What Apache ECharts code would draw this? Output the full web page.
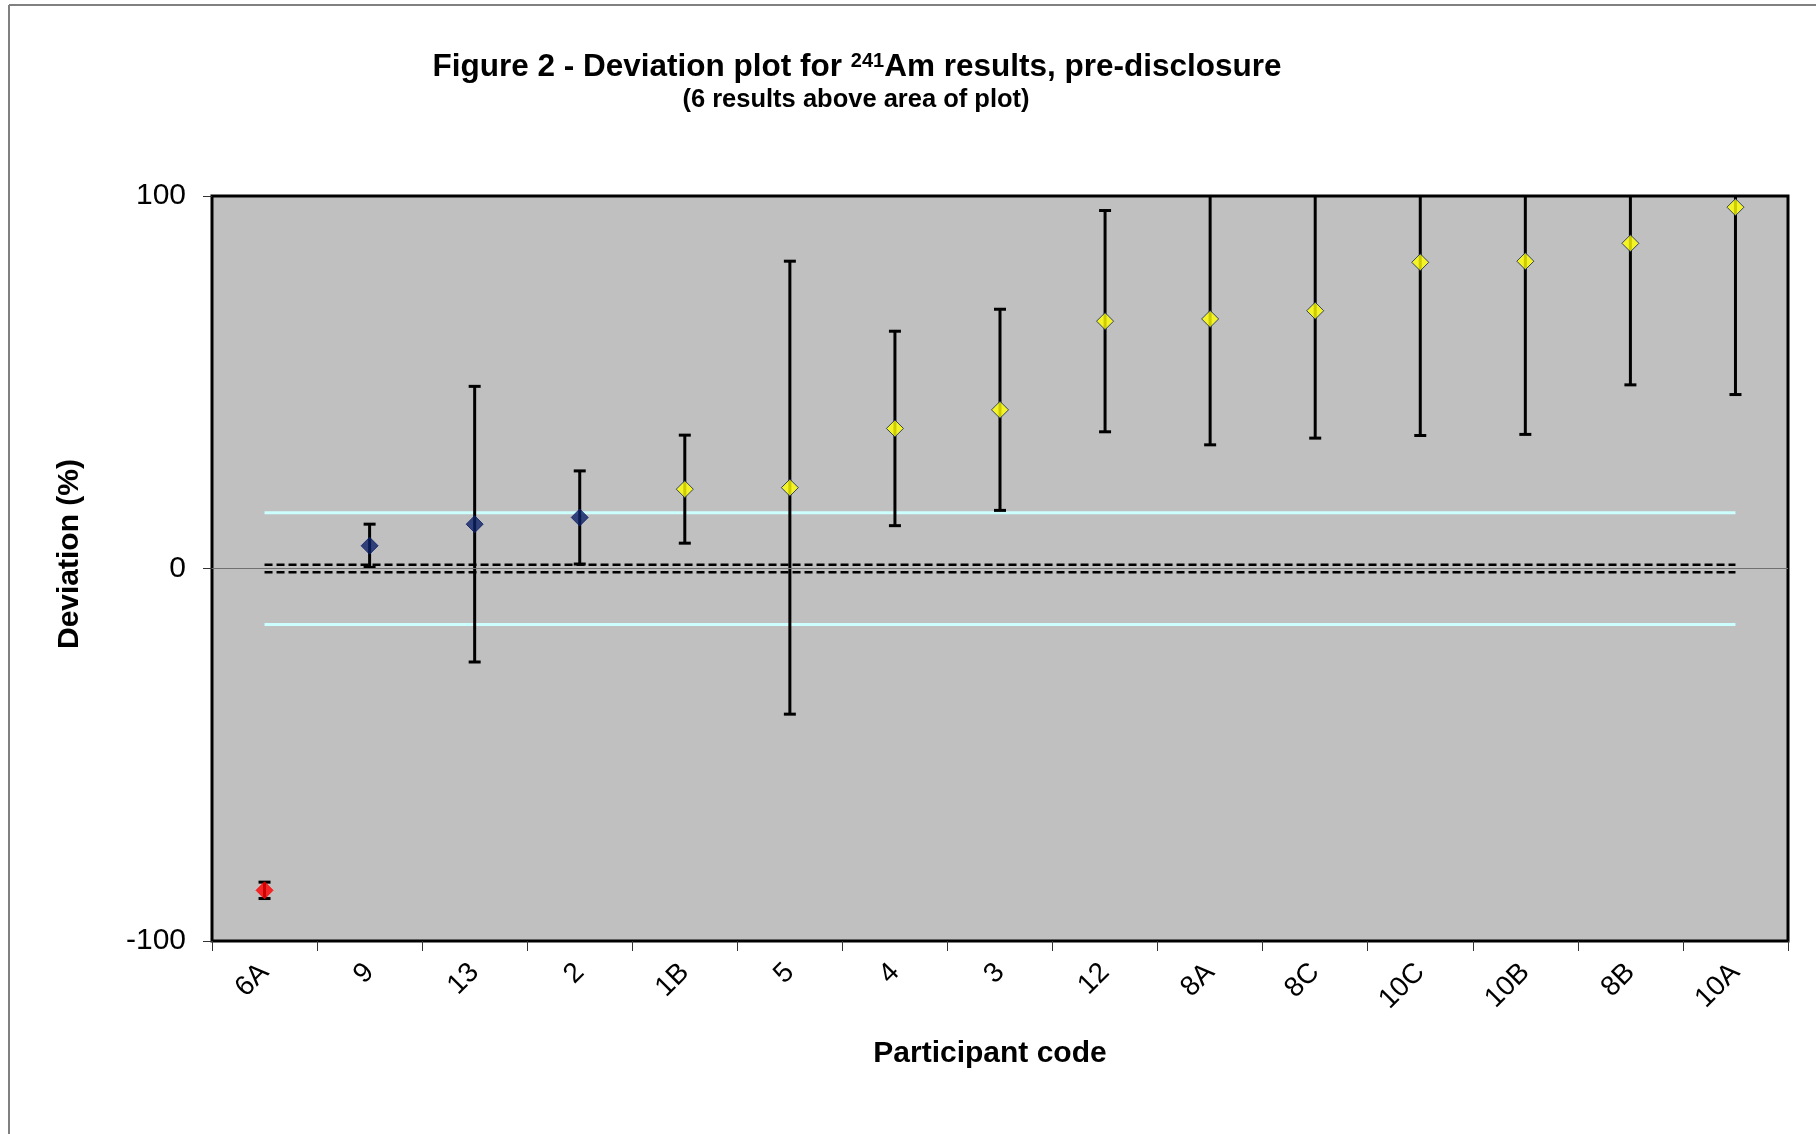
<!DOCTYPE html>
<html lang="en">
<head>
    <meta charset="UTF-8">
    <title>Deviation plot for 241Am</title>
    <script src="https://cdn.jsdelivr.net/npm/echarts@6/dist/echarts.min.js"></script>
    <style>
        html, body {
            margin: 0;
            padding: 0;
            background: #fff;
        }
        #chart {
            width: 1816px;
            height: 1134px;
        }
    </style>
</head>
<body>
<div id="chart"></div>
<script>
    // participant codes, in plotted order
    const codes = ['6A', '9', '13', '2', '1B', '5', '4', '3', '12', '8A', '8C', '10C', '10B', '8B', '10A'];
    // deviation from reference value (%)
    const deviation = [-86.4, 6.1, 11.9, 13.7, 21.3, 21.7, 37.6, 42.6, 66.4, 67.0, 69.2, 82.2, 82.5, 87.3, 97.0];
    // expanded uncertainty (%), drawn as +/- error bars
    const uncertainty = [2.2, 5.8, 37.0, 12.5, 14.5, 60.8, 26.1, 27.0, 29.7, 33.8, 34.2, 46.5, 46.5, 38.0, 50.3];
    // marker class of each result
    const status = ['low', 'ok', 'ok', 'ok', 'high', 'high', 'high', 'high', 'high', 'high', 'high', 'high', 'high', 'high', 'high'];
    const yTicks = [-100, 0, 100];
    const acceptLimit = 15;     // light cyan lines
    const refUncertainty = 1;   // dashed lines

    const Y_MIN = -100, Y_MAX = 100;
    const markerFill = {low: '#ff0000', ok: '#0b1f66', high: '#ffff00'};

    let points = deviation.map(function (v, i) {
        return {
            value: [i, v],
            itemStyle: {
                color: markerFill[status[i]],
                borderColor: status[i] === 'low' ? '#ff0000' : '#0b1f66',
                borderWidth: 1
            }
        };
    });
    let bars = deviation.map(function (v, i) {
        return [i, v - uncertainty[i], v + uncertainty[i]];
    });

    let last = codes.length - 1;
    function hLine(y, color, type, width) {
        return {
            type: 'line',
            data: [[0, y], [last, y]],
            symbol: 'none',
            silent: true,
            z: 1,
            lineStyle: {color: color, type: type, width: width}
        };
    }

    let myChart = echarts.init(document.getElementById('chart'));
    let option = {
        animation: false,
        backgroundColor: '#ffffff',
        textStyle: {fontFamily: 'Liberation Sans, Arial, sans-serif'},
        title: [{
            text: 'Figure 2 - Deviation plot for {sup|241}Am results, pre-disclosure',
            left: 852,
            top: 44,
            textAlign: 'center',
            textStyle: {
                fontSize: 31.5,
                fontWeight: 'bold',
                color: '#000',
                lineHeight: 36,
                rich: {
                    sup: {fontSize: 20, fontWeight: 'bold', color: '#000', verticalAlign: 'top', lineHeight: 36, padding: [2, 0, 0, 0]}
                }
            }
        }, {
            text: '(6 results above area of plot)',
            left: 851,
            top: 82,
            textAlign: 'center',
            textStyle: {fontSize: 25.5, fontWeight: 'bold', color: '#000'}
        }],
        grid: {
            left: 212,
            top: 196,
            right: 28,
            bottom: 193,
            show: true,
            backgroundColor: '#c0c0c0',
            borderColor: '#000',
            borderWidth: 3
        },
        xAxis: {
            type: 'category',
            data: codes,
            boundaryGap: true,
            axisLine: {show: false, onZero: false},
            axisTick: {show: true, length: 10, lineStyle: {color: '#333', width: 1}},
            axisLabel: {rotate: 45, fontSize: 28, color: '#000', margin: 27}
        },
        yAxis: {
            type: 'value',
            min: Y_MIN,
            max: Y_MAX,
            interval: 100,
            axisLine: {show: false},
            axisTick: {show: true, length: 9, lineStyle: {color: '#333', width: 1}},
            splitLine: {show: false},
            axisLabel: {
                fontSize: 30,
                color: '#000',
                margin: 26,
                formatter: function (v) {
                    return yTicks.indexOf(v) >= 0 ? String(v) : '';
                }
            }
        },
        series: [
            hLine(acceptLimit, '#ccffff', 'solid', 3),
            hLine(-acceptLimit, '#ccffff', 'solid', 3),
            hLine(refUncertainty, '#000', [8, 4], 2.5),
            hLine(-refUncertainty, '#000', [8, 4], 2.5),
            {
                type: 'line',
                data: [],
                silent: true,
                markLine: {
                    silent: true,
                    symbol: 'none',
                    label: {show: false},
                    lineStyle: {color: '#707070', type: 'solid', width: 1},
                    data: [{yAxis: 0}]
                }
            },
            {
                type: 'custom',
                z: 3,
                data: bars,
                renderItem: function (params, api) {
                    let x = api.value(0);
                    let lo = api.value(1);
                    let hi = api.value(2);
                    let top = api.coord([x, Math.min(hi, Y_MAX)]);
                    let bot = api.coord([x, Math.max(lo, Y_MIN)]);
                    let style = {stroke: '#000', lineWidth: 3};
                    let kids = [{
                        type: 'line',
                        shape: {x1: top[0], y1: top[1], x2: bot[0], y2: bot[1]},
                        style: style
                    }];
                    if (hi <= Y_MAX) {
                        kids.push({type: 'line', shape: {x1: top[0] - 6, y1: top[1], x2: top[0] + 6, y2: top[1]}, style: style});
                    }
                    if (lo >= Y_MIN) {
                        kids.push({type: 'line', shape: {x1: bot[0] - 6, y1: bot[1], x2: bot[0] + 6, y2: bot[1]}, style: style});
                    }
                    return {type: 'group', children: kids};
                }
            },
            {
                type: 'scatter',
                z: 4,
                symbol: 'diamond',
                symbolSize: [17, 17],
                data: points
            }
        ],
        graphic: [
            {
                type: 'line',
                shape: {x1: 9, y1: 5, x2: 1816, y2: 5},
                style: {stroke: '#808080', lineWidth: 2}
            },
            {
                type: 'line',
                shape: {x1: 9, y1: 5, x2: 9, y2: 1134},
                style: {stroke: '#808080', lineWidth: 2}
            },
            {
                type: 'text',
                x: 70,
                y: 554,
                rotation: Math.PI / 2,
                style: {
                    text: 'Deviation (%)',
                    font: 'bold 30px Liberation Sans, Arial, sans-serif',
                    fill: '#000',
                    align: 'center',
                    verticalAlign: 'middle'
                }
            },
            {
                type: 'text',
                x: 990,
                y: 1054,
                style: {
                    text: 'Participant code',
                    font: 'bold 30px Liberation Sans, Arial, sans-serif',
                    fill: '#000',
                    align: 'center',
                    verticalAlign: 'middle'
                }
            }
        ]
    };
    myChart.setOption(option);
</script>
</body>
</html>
